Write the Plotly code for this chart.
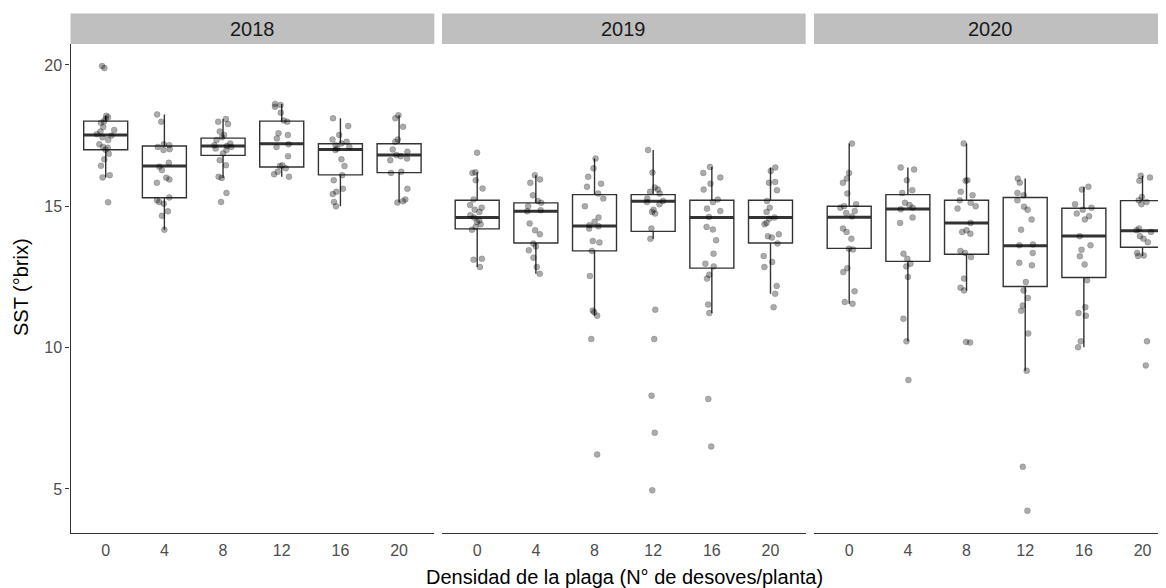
import plotly.graph_objects as go

years = ["2018", "2019", "2020"]
densidad = ["0", "4", "8", "12", "16", "20"]

# Box summary values (per density level)
q1_2018 = [17.00, 15.30, 16.80, 16.39, 16.11, 16.19]
med_2018 = [17.52, 16.42, 17.13, 17.21, 17.01, 16.81]
q3_2018 = [18.01, 17.13, 17.41, 18.01, 17.21, 17.21]
lo_2018 = [16.02, 14.17, 16.00, 16.04, 15.00, 15.13]
hi_2018 = [18.20, 18.25, 18.09, 18.62, 18.11, 18.22]

q1_2019 = [14.20, 13.70, 13.42, 14.11, 12.81, 13.70]
med_2019 = [14.60, 14.82, 14.30, 15.18, 14.60, 14.60]
q3_2019 = [15.21, 15.12, 15.41, 15.41, 15.21, 15.21]
lo_2019 = [12.85, 12.61, 11.13, 13.85, 11.22, 11.90]
hi_2019 = [16.20, 16.10, 16.69, 16.99, 16.39, 16.37]

q1_2020 = [13.51, 13.05, 13.30, 12.16, 12.48, 13.55]
med_2020 = [14.61, 14.90, 14.41, 13.60, 13.95, 14.13]
q3_2020 = [15.00, 15.41, 15.21, 15.31, 14.93, 15.20]
lo_2020 = [11.55, 10.22, 12.02, 9.18, 10.01, 13.24]
hi_2020 = [17.22, 16.37, 17.22, 15.98, 15.69, 16.08]

pts_2018 = [
    [19.96, 19.89, 18.20, 18.15, 18.09, 18.00, 17.95, 17.80, 17.70, 17.64, 17.55, 17.50,
     17.44, 17.34, 17.19, 17.10, 17.07, 17.00, 16.86, 16.66, 16.43, 16.10, 16.02, 15.14],
    [18.25, 17.99, 17.19, 17.16, 17.10, 17.02, 16.99, 16.54, 16.40, 16.28, 16.01, 15.95,
     15.83, 15.31, 15.21, 15.15, 15.09, 14.82, 14.66, 14.17],
    [18.09, 17.99, 17.91, 17.64, 17.52, 17.44, 17.34, 17.22, 17.16, 17.13, 17.10, 17.04,
     16.99, 16.87, 16.63, 16.45, 16.04, 16.00, 15.47, 15.15],
    [18.62, 18.58, 18.52, 18.31, 18.03, 17.99, 17.58, 17.52, 17.40, 17.19, 17.10, 16.77,
     16.45, 16.42, 16.34, 16.22, 16.13, 16.04],
    [18.11, 17.84, 17.52, 17.36, 17.28, 17.22, 17.16, 17.10, 17.04, 16.99, 16.66, 16.42,
     16.10, 15.92, 15.62, 15.51, 15.43, 15.15, 15.00],
    [18.22, 18.11, 17.81, 17.36, 17.28, 17.01, 16.93, 16.81, 16.77, 16.69, 16.63, 16.22,
     16.18, 15.62, 15.24, 15.18, 15.13],
]
pts_2019 = [
    [16.89, 16.20, 16.18, 15.92, 15.63, 15.24, 15.04, 14.95, 14.88, 14.80, 14.68, 14.60,
     14.50, 14.44, 14.36, 14.27, 14.17, 13.14, 13.11, 12.85],
    [16.10, 15.95, 15.83, 15.39, 15.19, 15.12, 15.00, 14.86, 14.82, 14.39, 14.15, 14.01,
     13.68, 13.58, 13.44, 13.18, 12.85, 12.61],
    [16.69, 16.34, 16.04, 15.80, 15.69, 15.45, 15.27, 15.00, 14.60, 14.45, 14.33, 14.29,
     14.21, 13.77, 13.72, 13.42, 12.53, 11.31, 11.25, 11.13, 10.30, 6.22],
    [16.99, 16.19, 15.66, 15.59, 15.51, 15.45, 15.27, 15.19, 15.15, 15.07, 14.88, 14.80,
     14.74, 14.21, 13.85, 11.34, 10.30, 8.30, 6.99, 4.95],
    [16.39, 16.18, 16.02, 15.80, 15.59, 15.24, 15.15, 14.92, 14.83, 14.62, 14.27, 14.18,
     13.80, 13.32, 12.97, 12.87, 12.58, 12.44, 11.52, 11.22, 8.18, 6.50],
    [16.37, 16.25, 15.86, 15.83, 15.57, 15.19, 14.95, 14.80, 14.60, 14.56, 14.41, 14.36,
     14.01, 13.94, 13.89, 13.68, 13.24, 13.03, 12.85, 12.18, 11.90, 11.43],
]
pts_2020 = [
    [17.22, 16.18, 15.98, 15.83, 15.45, 15.07, 15.00, 14.95, 14.83, 14.76, 14.64, 14.21,
     14.09, 13.85, 13.50, 13.47, 12.81, 12.67, 11.99, 11.61, 11.55],
    [16.37, 16.30, 15.92, 15.57, 15.47, 15.12, 15.04, 14.95, 14.89, 14.60, 14.41, 13.32,
     13.14, 12.97, 12.87, 12.50, 11.02, 10.22, 8.85],
    [17.22, 15.92, 15.90, 15.51, 15.39, 15.21, 15.12, 15.00, 14.92, 14.41, 14.15, 14.09,
     14.03, 13.42, 13.35, 13.20, 12.44, 12.12, 12.02, 10.20, 10.18],
    [15.98, 15.83, 15.47, 15.39, 15.21, 14.98, 14.88, 14.53, 14.17, 13.65, 13.62, 13.35,
     13.00, 12.91, 12.32, 12.02, 11.75, 11.49, 11.30, 10.50, 9.18, 5.78, 4.23],
    [15.69, 15.59, 15.07, 14.95, 14.88, 14.74, 14.65, 14.53, 13.94, 13.62, 13.46, 13.23,
     12.94, 12.38, 11.43, 11.22, 11.13, 10.22, 10.01],
    [16.08, 16.02, 15.90, 15.33, 15.21, 15.15, 15.07, 14.21, 14.15, 14.09, 13.94, 13.85,
     13.73, 13.35, 13.26, 13.24, 10.22, 9.37],
]

y_tick_vals = [5, 10, 15, 20]
x_title = "Densidad de la plaga (N° de desoves/planta)"
y_title = "SST (°brix)"

stats = {
    "2018": (q1_2018, med_2018, q3_2018, lo_2018, hi_2018, pts_2018),
    "2019": (q1_2019, med_2019, q3_2019, lo_2019, hi_2019, pts_2019),
    "2020": (q1_2020, med_2020, q3_2020, lo_2020, hi_2020, pts_2020),
}

FONT = "Liberation Sans, Arial, sans-serif"
BOXW = 0.75
LINEC = "#333333"

fig = go.Figure()
axis_ids = ["x", "x2", "x3"]

for yr, xa in zip(years, axis_ids):
    q1, med, q3, lo, hi, pts = stats[yr]
    # box + whiskers
    fig.add_trace(go.Box(
        x=densidad, q1=q1, median=med, q3=q3, lowerfence=lo, upperfence=hi,
        boxpoints=False, width=BOXW, whiskerwidth=0,
        fillcolor="white", line=dict(color=LINEC, width=1.4),
        xaxis=xa, yaxis="y", showlegend=False, hoverinfo="skip",
    ))
    # bold median
    fig.add_trace(go.Box(
        x=densidad, q1=med, median=med, q3=med, lowerfence=med, upperfence=med,
        boxpoints=False, width=BOXW, whiskerwidth=0,
        fillcolor="rgba(0,0,0,0)", line=dict(color=LINEC, width=3),
        xaxis=xa, yaxis="y", showlegend=False, hoverinfo="skip",
    ))
    # jittered observations
    xs, ys = [], []
    for d, p in zip(densidad, pts):
        xs += [d] * len(p)
        ys += p
    fig.add_trace(go.Box(
        x=xs, y=ys, boxpoints="all", jitter=0.45, pointpos=0, width=BOXW,
        fillcolor="rgba(0,0,0,0)", line=dict(color="rgba(0,0,0,0)", width=0),
        whiskerwidth=0,
        marker=dict(color="rgba(0,0,0,0.33)", size=6,
                    line=dict(width=0.6, color="rgba(0,0,0,0.25)")),
        xaxis=xa, yaxis="y", showlegend=False, hoveron="points",
    ))

# The page body has an 8px margin; lay out in window pixels and offset.
OFF = 8
W, H = 1166 - OFF, 588 - OFF
ml, mr, mt, mb = 70 - OFF, 0, 44 - OFF, 55
pw = W - ml - mr
ph = H - mt - mb

def px_x(v):
    return (v - OFF - ml) / pw

def px_y(v):
    return (H - mb - (v - OFF)) / ph

domains = [[px_x(70.5), px_x(434.3)], [px_x(442), px_x(805.7)], [px_x(814), 1.0]]
ranges = [[-0.6, 5.6], [-0.6, 5.6], [-0.6, 5.4]]

layout = dict(
    width=W, height=H,
    margin=dict(l=ml, r=mr, t=mt, b=mb),
    paper_bgcolor="white", plot_bgcolor="white",
    boxmode="overlay",
    font=dict(family=FONT, color="#4d4d4d"),
    yaxis=dict(
        range=[3.44, 20.74], tickvals=y_tick_vals, ticks="outside", ticklen=4,
        tickcolor=LINEC, tickwidth=1.2, showline=True, linecolor=LINEC, linewidth=1.3,
        showgrid=False, zeroline=False, anchor="x",
        tickfont=dict(size=16, color="#4d4d4d", family=FONT),
    ),
)
for i, (xa, dom, rng) in enumerate(zip(axis_ids, domains, ranges)):
    key = "xaxis" if i == 0 else f"xaxis{i+1}"
    layout[key] = dict(
        domain=dom, range=rng, type="category",
        categoryorder="array", categoryarray=densidad,
        showline=True, linecolor=LINEC, linewidth=1.3,
        ticks="outside", ticklen=3, tickcolor="rgba(0,0,0,0)",
        showgrid=False, zeroline=False, anchor="y",
        tickfont=dict(size=16, color="#4d4d4d", family=FONT),
    )
fig.update_layout(**layout)

shapes = []
annotations = []
for yr, xa in zip(years, axis_ids):
    shapes.append(dict(
        type="rect", xref=f"{xa} domain", yref="paper",
        x0=0, x1=1, y0=px_y(44.0), y1=px_y(13.5),
        fillcolor="#bfbfbf", line=dict(width=0), layer="below",
    ))
    annotations.append(dict(
        text=yr, xref=f"{xa} domain", yref="paper", x=0.5, y=px_y(29),
        xanchor="center", yanchor="middle", showarrow=False,
        font=dict(size=20, color="#1a1a1a", family=FONT),
    ))
annotations.append(dict(
    text=x_title, xref="paper", yref="paper", x=px_x(624), y=px_y(577),
    xanchor="center", yanchor="middle", showarrow=False,
    font=dict(size=20, color="black", family=FONT),
))
annotations.append(dict(
    text=y_title, xref="paper", yref="paper", x=px_x(21), y=px_y(287),
    xanchor="center", yanchor="middle", showarrow=False, textangle=-90,
    font=dict(size=20, color="black", family=FONT),
))
fig.update_layout(shapes=shapes, annotations=annotations)

fig.write_html("out.html")
